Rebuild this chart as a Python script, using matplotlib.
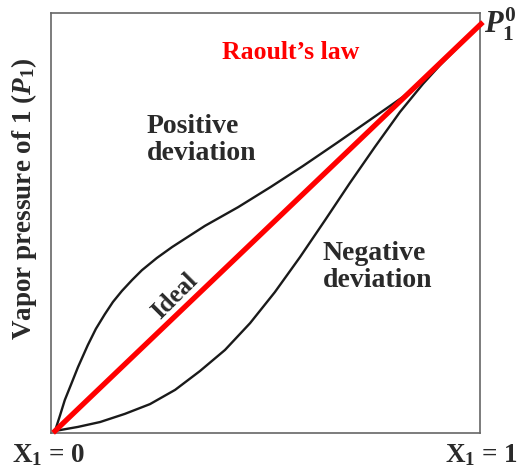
import matplotlib
matplotlib.use("Agg")
import matplotlib.pyplot as plt

plt.rcParams['font.family'] = ['Liberation Serif', 'DejaVu Serif']
plt.rcParams['mathtext.fontset'] = 'custom'
plt.rcParams['mathtext.rm'] = 'Liberation Serif:bold'
plt.rcParams['mathtext.it'] = 'Liberation Serif:bold:italic'
plt.rcParams['mathtext.bf'] = 'Liberation Serif:bold'

# mole fraction of 1 vs vapor pressure (scaled so P1^0 = 1)
ideal_x = [0.0, 1.0]
ideal_y = [0.0, 1.0]

pos_x = [0.0, 0.012, 0.023, 0.038, 0.054, 0.077, 0.096, 0.117, 0.136,
         0.157, 0.181, 0.204, 0.239, 0.275, 0.312, 0.352, 0.430, 0.507,
         0.582, 0.662, 0.739, 0.817, 0.869, 1.0]
pos_y = [0.0, 0.039, 0.076, 0.115, 0.157, 0.211, 0.251, 0.287, 0.317,
         0.344, 0.371, 0.395, 0.425, 0.452, 0.477, 0.504, 0.550, 0.600,
         0.651, 0.708, 0.764, 0.821, 0.867, 1.0]

neg_x = [0.0, 0.054, 0.106, 0.164, 0.223, 0.282, 0.340, 0.399, 0.458,
         0.516, 0.575, 0.634, 0.692, 0.751, 0.810, 0.864, 0.904, 1.0]
neg_y = [0.0, 0.010, 0.022, 0.042, 0.066, 0.101, 0.147, 0.199, 0.265,
         0.341, 0.427, 0.518, 0.609, 0.698, 0.784, 0.853, 0.899, 1.0]

W, H = 521, 472
fig = plt.figure(figsize=(W / 100, H / 100), dpi=100)
ax = fig.add_axes([51 / W, (H - 433) / H, (480 - 51) / W, (433 - 13) / H])

ax.plot(pos_x, pos_y, color='#1a1a1a', lw=1.7, solid_joinstyle='round')
ax.plot(neg_x, neg_y, color='#1a1a1a', lw=1.7, solid_joinstyle='round')
ax.plot(ideal_x, ideal_y, color='#ff0000', lw=3.8, clip_on=False, zorder=5)

ax.set_xlim(-0.0094, 0.9977)
ax.set_ylim(-0.005, 1.027)
ax.set_xticks([])
ax.set_yticks([])
for s in ax.spines.values():
    s.set_color('#666666')
    s.set_linewidth(1.2)

# labels inside the plot
ax.text(0.554, 0.929, 'Raoult\u2019s law', color='#ff0000', fontsize=18.5,
        fontweight='bold', ha='center', va='center')
ax.text(0.216, 0.778, 'Positive\ndeviation', color='#2a2a2a', fontsize=20,
        fontweight='bold', ha='left', va='top', linespacing=1.1)
ax.text(0.629, 0.467, 'Negative\ndeviation', color='#2a2a2a', fontsize=20,
        fontweight='bold', ha='left', va='top', linespacing=1.1)
ax.text(0.282, 0.332, 'Ideal', color='#2a2a2a', fontsize=18,
        fontweight='bold', ha='center', va='center', rotation=45)

# labels outside the axes
fig.text(24 / W, 1 - 199 / H, r'Vapor pressure of 1 ($P_1$)', color='#2a2a2a',
         fontsize=19.5, fontweight='bold', rotation=90, ha='center', va='center')
fig.text(500 / W, 1 - 24 / H, r'$P_1^0$', color='#2a2a2a', fontsize=22,
         ha='center', va='center')
fig.text(49 / W, 1 - 455 / H, r'X$_1$ = 0', color='#2a2a2a', fontsize=19.5,
         fontweight='bold', ha='center', va='center')
fig.text(482 / W, 1 - 455 / H, r'X$_1$ = 1', color='#2a2a2a', fontsize=19.5,
         fontweight='bold', ha='center', va='center')

fig.savefig('out.png', dpi=100)
